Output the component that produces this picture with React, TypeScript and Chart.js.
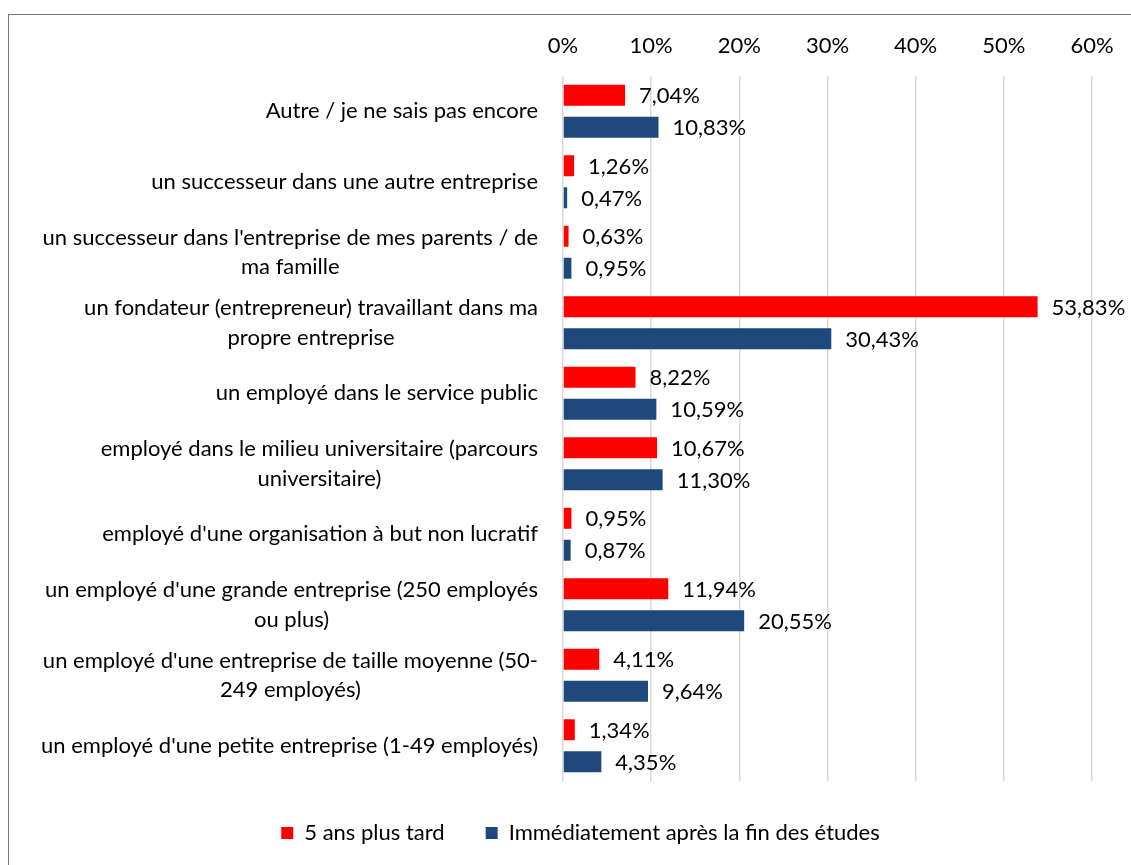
import React, { useEffect, useRef } from "react";
import { Chart, registerables } from "chart.js";

Chart.register(...registerables);

const categories: string[][] = [
  ["Autre / je ne sais pas encore"],
  ["un successeur dans une autre entreprise"],
  ["un successeur dans l'entreprise de mes parents / de", "ma famille"],
  ["un fondateur (entrepreneur) travaillant dans ma", "propre entreprise"],
  ["un employé dans le service public"],
  ["employé dans le milieu universitaire (parcours", "universitaire)"],
  ["employé d'une organisation à but non lucratif"],
  ["un employé d'une grande entreprise (250 employés", "ou plus)"],
  ["un employé d'une entreprise de taille moyenne (50-", "249 employés)"],
  ["un employé d'une petite entreprise (1-49 employés)"],
];

const seriesLater: number[] = [7.04, 1.26, 0.63, 53.83, 8.22, 10.67, 0.95, 11.94, 4.11, 1.34];
const seriesNow: number[] = [10.83, 0.47, 0.95, 30.43, 10.59, 11.3, 0.87, 20.55, 9.64, 4.35];

const seriesNames = ["5 ans plus tard", "Immédiatement après la fin des études"];
const tickValues = [0, 10, 20, 30, 40, 50, 60];

const FONT = "Lato, 'Noto Sans', sans-serif";
const FS = 22;

const fmt = (v: number) => v.toFixed(2).replace(".", ",") + "%";

export default function App() {
  const ref = useRef<HTMLCanvasElement | null>(null);

  useEffect(() => {
    if (!ref.current) return;

    const labelPlugin = {
      id: "customLabels",
      afterDraw(chart: any) {
        const ctx = chart.ctx;
        const yScale = chart.scales.y;
        ctx.save();
        ctx.font = `${FS}px ${FONT}`;
        ctx.fillStyle = "#000";
        ctx.textBaseline = "middle";
        const rightEdge = 529;
        const lh = 29.5;
        categories.forEach((lines, i) => {
          const y = yScale.getPixelForValue(i);
          let w = 0;
          lines.forEach((l) => (w = Math.max(w, ctx.measureText(l).width)));
          const cx = rightEdge - w / 2;
          ctx.textAlign = "center";
          const y0 = y - ((lines.length - 1) * lh) / 2;
          lines.forEach((l, k) => ctx.fillText(l, cx, y0 + k * lh));
        });
        ctx.textAlign = "left";
        chart.data.datasets.forEach((ds: any, di: number) => {
          const meta = chart.getDatasetMeta(di);
          meta.data.forEach((el: any, i: number) => {
            ctx.fillText(fmt(ds.data[i]), el.x + 14, el.y + 1);
          });
        });
        ctx.restore();
      },
    };

    const chart = new Chart(ref.current, {
      type: "bar",
      data: {
        labels: categories.map((c) => c.join(" ")),
        datasets: [
          {
            label: seriesNames[0],
            data: seriesLater,
            backgroundColor: "#FF0000",
            borderWidth: 0,
            categoryPercentage: 0.907,
            barPercentage: 0.656,
          },
          {
            label: seriesNames[1],
            data: seriesNow,
            backgroundColor: "#1F497D",
            borderWidth: 0,
            categoryPercentage: 0.907,
            barPercentage: 0.656,
          },
        ],
      },
      options: {
        indexAxis: "y",
        responsive: false,
        animation: false,
        layout: { padding: { left: 60, right: 39, top: 0, bottom: 11 } },
        scales: {
          x: {
            type: "linear",
            position: "top",
            min: 0,
            max: 60,
            afterFit: (s: any) => {
              s.height = 61;
            },
            afterBuildTicks: (s: any) => {
              s.ticks = tickValues.map((v) => ({ value: v }));
            },
            ticks: {
              padding: 17,
              color: "#000",
              font: { family: FONT, size: FS },
              callback: (v: any) => v + "%",
            },
            grid: { color: "#D9D9D9", lineWidth: 1.5, drawTicks: false },
            border: { display: false },
          },
          y: {
            type: "category",
            afterFit: (s: any) => {
              s.width = 494;
            },
            ticks: { display: false },
            grid: { display: false },
            border: { display: false },
          },
        },
        plugins: {
          legend: {
            position: "bottom",
            labels: {
              boxWidth: 12,
              boxHeight: 12,
              padding: 41,
              color: "#000",
              font: { family: FONT, size: FS },
            },
          },
          tooltip: { enabled: false },
        },
      },
      plugins: [labelPlugin],
    });

    return () => chart.destroy();
  }, []);

  return (
    <div
      style={{
        position: "fixed",
        left: 8,
        top: 14,
        width: 1123,
        height: 851,
        borderTop: "1px solid #767676",
        borderLeft: "1px solid #767676",
        background: "#fff",
        boxSizing: "border-box",
      }}
    >
      <canvas ref={ref} width={1122} height={850} style={{ display: "block" }} />
    </div>
  );
}
